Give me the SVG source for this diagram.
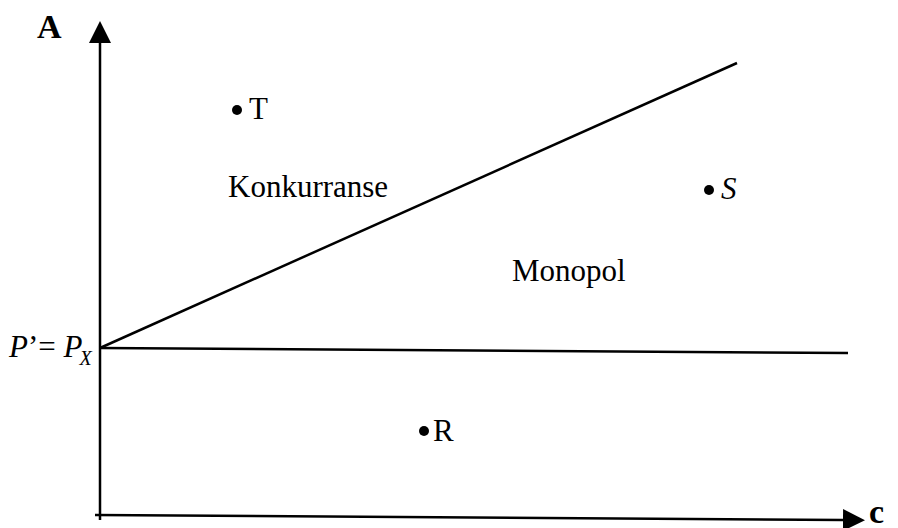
<svg xmlns="http://www.w3.org/2000/svg" width="898" height="528" viewBox="0 0 898 528">
<style>
text{font-family:"Liberation Serif","Times New Roman",serif;fill:#000}
.t{font-size:31px}
.b{font-weight:bold;font-size:34px}
.l{stroke:#000;stroke-width:2.5;fill:none}
</style>
<defs>
<marker id="ah" markerWidth="22" markerHeight="22" refX="0" refY="11" orient="auto" markerUnits="userSpaceOnUse">
<path d="M0,0 L22,11 L0,22 Z" fill="#000"/>
</marker>
</defs>
<rect width="898" height="528" fill="#fff"/>
<g id="connectors">
<line class="l" x1="100" y1="520" x2="100" y2="43" marker-end="url(#ah)"/>
<line class="l" x1="95" y1="515" x2="843" y2="520" marker-end="url(#ah)"/>
<line class="l" x1="100" y1="348" x2="848" y2="353"/>
<line class="l" x1="100" y1="348" x2="737" y2="63"/>
</g>
<g id="axisA"><text class="b" x="37" y="38">A</text></g>
<g id="axisC"><text class="b" x="869" y="523">c</text></g>
<g id="px"><text class="t" x="9" y="357"><tspan font-style="italic">P</tspan>’= <tspan font-style="italic">P</tspan><tspan font-style="italic" font-size="20" dx="-3" dy="8">X</tspan></text></g>
<g id="T"><circle cx="237" cy="110" r="5"/><text class="t" x="249" y="119">T</text></g>
<g id="S"><circle cx="709" cy="190" r="5"/><text class="t" x="721" y="199" font-style="italic">S</text></g>
<g id="R"><circle cx="424" cy="431" r="5"/><text class="t" x="433" y="441">R</text></g>
<g id="konk"><text class="t" x="228" y="197">Konkurranse</text></g>
<g id="mono"><text class="t" x="512" y="281">Monopol</text></g>
</svg>
